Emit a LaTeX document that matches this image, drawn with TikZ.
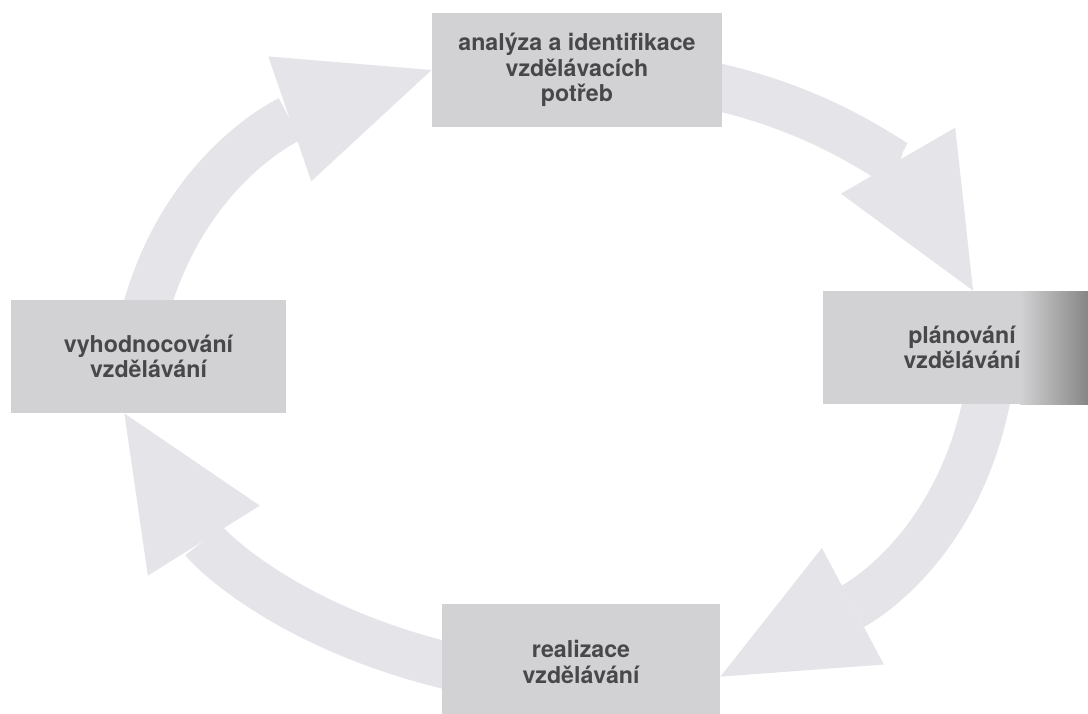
\documentclass[tikz,border=0pt]{standalone}
\usepackage{fontspec}
\setmainfont{TeX Gyre Heros}
\usetikzlibrary{arrows.meta,backgrounds}
\definecolor{boxgray}{RGB}{210,210,212}
\definecolor{arrowgray}{RGB}{228,228,233}
\definecolor{textgray}{RGB}{72,72,74}

\begin{document}
\begin{tikzpicture}[x=0.5pt,y=0.5pt]
    \tikzstyle{stage}=[fill=boxgray,text=textgray,align=center,inner sep=0pt,minimum width=139pt,minimum height=57pt,font=\bfseries\fontsize{11.6}{12.6}\selectfont];
    \tikzstyle{flow}=[draw=arrowgray,line width=23.5pt,-{Triangle[length=75pt,width=66pt,line width=0pt 0 0]},shorten <=-8pt];

    \useasboundingbox (0,0) rectangle (1088,-713);
    \node at (577,-70)      (ident) [stage,minimum width=145pt] {analýza a identifikace\\vzdělávacích\\potřeb};
    \node at (962,-347.5)   (plan)  [stage,minimum height=56.5pt] {plánování\\vzdělávání};
    \shade[left color=boxgray,right color=gray!95] (1020,-291) rectangle (1088,-404);
    \node at (581,-662)     (real)  [stage,minimum height=58pt] {realizace\\vzdělávání};
    \node at (148.5,-356.5) (eval)  [stage,minimum width=137.5pt,minimum height=56.5pt] {vyhodnocování\\vzdělávání};

    \begin{scope}[on background layer]
    \draw[flow] (eval.north) to[out=75,in=199] (ident.west);
    \draw[flow] (ident.-7) to[out=-12,in=120] (plan.79);
    \draw[flow] (plan.-67) to[out=-100,in=28] (real.-6);
    \draw[flow] (real.181) to[out=167,in=-58] (eval.247);
    \end{scope}
\end{tikzpicture}
\end{document}
